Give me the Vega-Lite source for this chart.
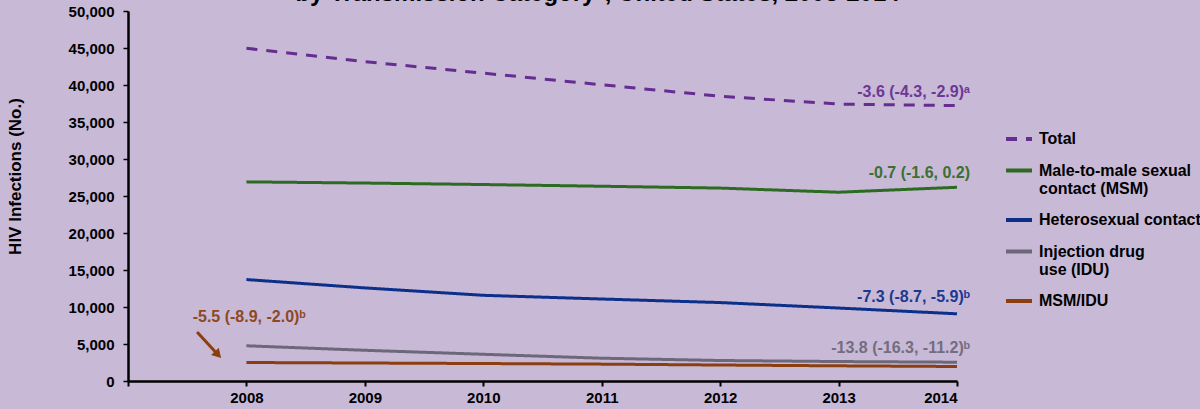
{
  "$schema": "https://vega.github.io/schema/vega-lite/v6.json",
  "width": 829,
  "height": 370,
  "autosize": {"type": "none"},
  "padding": {"left": 128, "top": 11, "right": 243, "bottom": 28},
  "background": "#c8b9d7",
  "config": {"view": {"stroke": null}, "font": "Liberation Sans"},
  "title": {
    "text": "by Transmission Category*, United States, 2008-2014",
    "fontSize": 24,
    "fontWeight": "bold",
    "color": "black",
    "anchor": "middle",
    "frame": "group",
    "dx": 55,
    "baseline": "alphabetic",
    "offset": -21
  },
  "datasets": {
    "series": [
      {"category": "Total", "year": 2008, "infections": 44960},
      {"category": "Total", "year": 2009, "infections": 43160},
      {"category": "Total", "year": 2010, "infections": 41600},
      {"category": "Total", "year": 2011, "infections": 40030},
      {"category": "Total", "year": 2012, "infections": 38480},
      {"category": "Total", "year": 2013, "infections": 37420},
      {"category": "Total", "year": 2014, "infections": 37220},
      {"category": "Male-to-male sexual contact (MSM)", "year": 2008, "infections": 26910},
      {"category": "Male-to-male sexual contact (MSM)", "year": 2009, "infections": 26750},
      {"category": "Male-to-male sexual contact (MSM)", "year": 2010, "infections": 26550},
      {"category": "Male-to-male sexual contact (MSM)", "year": 2011, "infections": 26320},
      {"category": "Male-to-male sexual contact (MSM)", "year": 2012, "infections": 26070},
      {"category": "Male-to-male sexual contact (MSM)", "year": 2013, "infections": 25510},
      {"category": "Male-to-male sexual contact (MSM)", "year": 2014, "infections": 26180},
      {"category": "Heterosexual contact", "year": 2008, "infections": 13710},
      {"category": "Heterosexual contact", "year": 2009, "infections": 12580},
      {"category": "Heterosexual contact", "year": 2010, "infections": 11580},
      {"category": "Heterosexual contact", "year": 2011, "infections": 11080},
      {"category": "Heterosexual contact", "year": 2012, "infections": 10600},
      {"category": "Heterosexual contact", "year": 2013, "infections": 9860},
      {"category": "Heterosexual contact", "year": 2014, "infections": 9080},
      {"category": "Injection drug use (IDU)", "year": 2008, "infections": 4760},
      {"category": "Injection drug use (IDU)", "year": 2009, "infections": 4150},
      {"category": "Injection drug use (IDU)", "year": 2010, "infections": 3610},
      {"category": "Injection drug use (IDU)", "year": 2011, "infections": 3080},
      {"category": "Injection drug use (IDU)", "year": 2012, "infections": 2770},
      {"category": "Injection drug use (IDU)", "year": 2013, "infections": 2630},
      {"category": "Injection drug use (IDU)", "year": 2014, "infections": 2540},
      {"category": "MSM/IDU", "year": 2008, "infections": 2500},
      {"category": "MSM/IDU", "year": 2009, "infections": 2430},
      {"category": "MSM/IDU", "year": 2010, "infections": 2360},
      {"category": "MSM/IDU", "year": 2011, "infections": 2280},
      {"category": "MSM/IDU", "year": 2012, "infections": 2160},
      {"category": "MSM/IDU", "year": 2013, "infections": 2050},
      {"category": "MSM/IDU", "year": 2014, "infections": 1960}
    ],
    "notes": [
      {"category": "Total", "year": 2014.11, "infections": 39000, "note": "-3.6 (-4.3, -2.9)ᵃ"},
      {"category": "Male-to-male sexual contact (MSM)", "year": 2014.11, "infections": 28100, "note": "-0.7 (-1.6, 0.2)"},
      {"category": "Heterosexual contact", "year": 2014.11, "infections": 11300, "note": "-7.3 (-8.7, -5.9)ᵇ"},
      {"category": "Injection drug use (IDU)", "year": 2014.11, "infections": 4400, "note": "-13.8 (-16.3, -11.2)ᵇ"},
      {"category": "MSM/IDU", "year": 2008.5, "infections": 8600, "note": "-5.5 (-8.9, -2.0)ᵇ"}
    ],
    "arrow": [
      {"category": "MSM/IDU", "year": 2007.583, "infections": 6620, "year2": 2007.76, "infections2": 3560}
    ],
    "arrowhead": [
      {"category": "MSM/IDU", "year": 2007.76, "infections": 3560}
    ]
  },
  "encoding": {
    "x": {
      "field": "year", "type": "quantitative",
      "scale": {"domain": [2007, 2014], "nice": false, "zero": false},
      "axis": {
        "title": null,
        "values": [2007, 2008, 2009, 2010, 2011, 2012, 2013, 2014],
        "labelExpr": "datum.value == 2007 ? '' : datum.label",
        "format": "d",
        "grid": false,
        "domainColor": "black", "domainWidth": 2.5,
        "tickColor": "black", "tickWidth": 2, "tickSize": 5,
        "labelFont": "Liberation Sans", "labelFontSize": 15, "labelFontWeight": "bold", "labelColor": "black",
        "labelPadding": 4
      }
    },
    "y": {
      "field": "infections", "type": "quantitative",
      "scale": {"domain": [0, 50000], "nice": false},
      "axis": {
        "title": "HIV Infections (No.)",
        "values": [0, 5000, 10000, 15000, 20000, 25000, 30000, 35000, 40000, 45000, 50000],
        "format": ",d",
        "labelOverlap": false,
        "grid": false,
        "domainColor": "black", "domainWidth": 2.5,
        "tickColor": "black", "tickWidth": 1.5, "tickSize": 5,
        "labelFont": "Liberation Sans", "labelFontSize": 15, "labelFontWeight": "bold", "labelColor": "black",
        "labelPadding": 9,
        "titleFont": "Liberation Sans", "titleFontSize": 17, "titleFontWeight": "bold", "titleColor": "black",
        "titleAngle": -90, "titleX": -113, "titleY": 165, "titleAlign": "center", "titleBaseline": "middle"
      }
    }
  },
  "layer": [
    {
      "data": {"name": "series"},
      "mark": {"type": "line", "strokeWidth": 3},
      "encoding": {
        "color": {
          "field": "category", "type": "nominal",
          "scale": {
            "domain": ["Total", "Male-to-male sexual contact (MSM)", "Heterosexual contact", "Injection drug use (IDU)", "MSM/IDU"],
            "range": ["#662d91", "#2e6b22", "#0c2f8a", "#6c6779", "#8b3f10"]
          },
          "legend": {
            "orient": "none", "legendX": 876, "legendY": 113,
            "title": null, "padding": 0,
            "symbolType": "stroke", "symbolSize": 676, "symbolStrokeWidth": 4,
            "labelFont": "Liberation Sans", "labelFontSize": 16, "labelFontWeight": "bold", "labelColor": "black",
            "labelLimit": 400, "labelOffset": 5, "rowPadding": 8.5,
            "labelExpr": "datum.label == 'Male-to-male sexual contact (MSM)' ? ['Male-to-male sexual', 'contact (MSM)'] : datum.label == 'Injection drug use (IDU)' ? ['Injection drug', 'use (IDU)'] : datum.label"
          }
        },
        "strokeDash": {
          "field": "category", "type": "nominal",
          "scale": {
            "domain": ["Total", "Male-to-male sexual contact (MSM)", "Heterosexual contact", "Injection drug use (IDU)", "MSM/IDU"],
            "range": [[11, 9], [1, 0], [1, 0], [1, 0], [1, 0]]
          },
          "legend": {
            "orient": "none", "legendX": 876, "legendY": 113,
            "title": null, "padding": 0,
            "symbolType": "stroke", "symbolSize": 676, "symbolStrokeWidth": 4,
            "labelFont": "Liberation Sans", "labelFontSize": 16, "labelFontWeight": "bold", "labelColor": "black",
            "labelLimit": 400, "labelOffset": 5, "rowPadding": 8.5,
            "labelExpr": "datum.label == 'Male-to-male sexual contact (MSM)' ? ['Male-to-male sexual', 'contact (MSM)'] : datum.label == 'Injection drug use (IDU)' ? ['Injection drug', 'use (IDU)'] : datum.label"
          }
        }
      }
    },
    {
      "data": {"name": "notes"},
      "mark": {"type": "text", "align": "right", "baseline": "middle", "font": "Liberation Sans", "fontSize": 16, "fontWeight": "bold", "opacity": 0.92},
      "encoding": {
        "text": {"field": "note"},
        "color": {"field": "category", "type": "nominal", "legend": null}
      }
    },
    {
      "data": {"name": "arrow"},
      "mark": {"type": "rule", "strokeWidth": 3},
      "encoding": {
        "x2": {"field": "year2"},
        "y2": {"field": "infections2"},
        "color": {"field": "category", "type": "nominal", "legend": null}
      }
    },
    {
      "data": {"name": "arrowhead"},
      "mark": {"type": "point", "shape": "triangle-up", "filled": true, "opacity": 1, "size": 110, "angle": 137},
      "encoding": {
        "color": {"field": "category", "type": "nominal", "legend": null}
      }
    }
  ]
}
